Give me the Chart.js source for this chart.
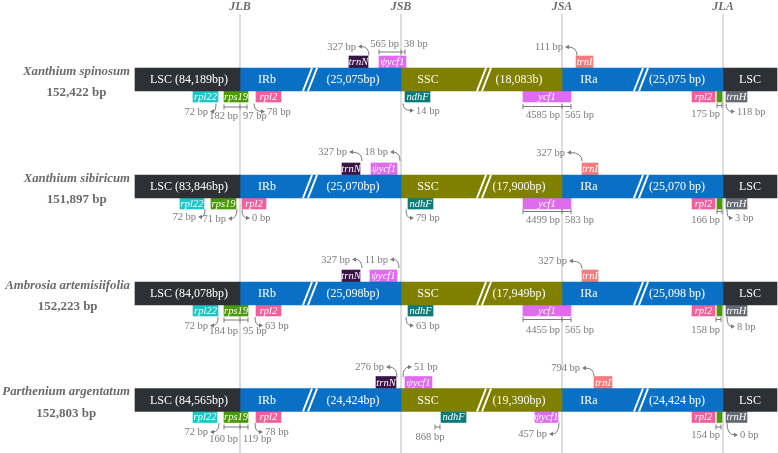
<!DOCTYPE html>
<html>
<head>
<meta charset="utf-8">
<script src="https://cdn.jsdelivr.net/npm/chart.js@4.4.1/dist/chart.umd.min.js"></script>
<style>
    html, body { margin: 0; padding: 0; background: #fff; }
</style>
</head>
<body>
<canvas id="junctionChart" width="778" height="453"></canvas>
<script>
    // ---- values ----
    const species = ['Xanthium spinosum', 'Xanthium sibiricum', 'Ambrosia artemisiifolia', 'Parthenium argentatum'];
    const genomeBp = ['152,422 bp', '151,897 bp', '152,223 bp', '152,803 bp'];
    const lscLabel = ['LSC (84,189bp)', 'LSC (83,846bp)', 'LSC (84,078bp)', 'LSC (84,565bp)'];
    const irbLabel = ['(25,075bp)', '(25,070bp)', '(25,098bp)', '(24,424bp)'];
    const sscLabel = ['(18,083b)', '(17,900bp)', '(17,949bp)', '(19,390bp)'];
    const iraLabel = ['(25,075 bp)', '(25,070 bp)', '(25,098 bp)', '(24,424 bp)'];
    const junctions = ['JLB', 'JSB', 'JSA', 'JLA'];
    const segments = ['LSC', 'IRb', 'SSC', 'IRa', 'LSC'];

    const upperGenes = [
        ['trnN', 'ψycf1', 'trnI'],
        ['trnN', 'ψycf1', 'trnI'],
        ['trnN', 'ψycf1', 'trnI'],
        ['trnN', 'ψycf1', 'trnI']
    ];
    const lowerGenes = [
        ['rpl22', 'rps19', 'rpl2', 'ndhF', 'ycf1', 'rpl2', 'rps19', 'trnH'],
        ['rpl22', 'rps19', 'rpl2', 'ndhF', 'ycf1', 'rpl2', 'rps19', 'trnH'],
        ['rpl22', 'rps19', 'rpl2', 'ndhF', 'ycf1', 'rpl2', 'rps19', 'trnH'],
        ['rpl22', 'rps19', 'rpl2', 'ndhF', 'ψycf1', 'rpl2', 'rps19', 'trnH']
    ];

    // distances (bp) next to the junctions, one entry per species
    const trnNbp    = [327, 327, 327, 276];
    const psiYcf1bp = [[565, 38], [18], [11], [51]];
    const rpl22bp   = [72, 72, 72, 72];
    const rps19bp   = [[182, 97], [71], [184, 95], [160, 119]];
    const rpl2Bbp   = [78, 0, 63, 78];
    const ndhFbp    = [14, 79, 63, 868];
    const ycf1bp    = [[4585, 565], [4499, 583], [4455, 565], [457]];
    const trnIbp    = [111, 327, 327, 794];
    const rpl2Abp   = [175, 166, 158, 154];
    const trnHbp    = [118, 3, 8, 0];

    // ---- layout (schematic units, not to scale) ----
    const junctionX = [240, 401, 562, 723];
    const barStart = 135, barEnd = 777;
    const rowY = [79.5, 186.5, 293.5, 400];
    const segEdges = [barStart, ...junctionX, barEnd];
    const labelX = { lsc: 189, irb: 267, irbSize: 353, ssc: 428, sscSize: 519, ira: 589, iraSize: 677, lsc2: 750 };
    const slashX = [303, 477, 634];

    const upperSpan = [
        [[349, 368], [379, 406], [576, 593]],
        [[342, 360], [371, 397], [582, 598]],
        [[342, 360], [370, 397], [582, 598]],
        [[376, 396], [405, 432], [594, 612]]
    ];
    const lowerSpan = [
        [[193, 218], [224, 248], [256, 281], [405, 430], [523, 571], [692, 715], [717, 722], [726, 747]],
        [[180, 204], [211, 236], [242, 266], [408, 433], [523, 571], [692, 715], [717, 722], [726, 747]],
        [[193, 218], [224, 248], [256, 281], [408, 433], [523, 571], [692, 715], [717, 722], [726, 747]],
        [[193, 217], [224, 248], [256, 281], [441, 466], [535, 558], [692, 715], [717, 722], [726, 747]]
    ];

    const segColors = ['#2d3035', '#0a70c6', '#7f7f00', '#0a70c6', '#2d3035'];
    const geneColors = {
        'rpl22': '#1ec6c6', 'rps19': '#4a9a06', 'rpl2': '#f0609c', 'ndhF': '#0b7a7a',
        'ycf1': '#df6bef', 'ψycf1': '#df6bef', 'trnN': '#3b1447', 'trnI': '#f47c7e', 'trnH': '#646b72'
    };

    function arrow(v, sx, sdy, ex, edy) { return { kind: 'arrow', v, sx, sdy, ex, edy }; }
    function bracket(v, xs, dy, ldy) { return { kind: 'bracket', v, xs, dy, ldy }; }
    function tick(v, xs, dy, lx, ldy, align) { return { kind: 'tick', v, xs, dy, lx, ldy, align }; }

    const notes = [
        [
            arrow(trnNbp[0], 369, -24, 358, -33),
            bracket(psiYcf1bp[0], [379, 401, 405], -27.5, -35.5),
            arrow(rpl22bp[0], 216, 24, 210, 32),
            bracket(rps19bp[0], [224, 240, 247], 27.5, 37),
            arrow(rpl2Bbp[0], 254, 24, 265, 32),
            arrow(trnIbp[0], 577, -24, 565, -32.5),
            arrow(ndhFbp[0], 403, 24, 414, 31),
            bracket(ycf1bp[0], [523, 562, 571], 27, 35.5),
            tick(rpl2Abp[0], [717, 722], 26, 720, 35, 'right'),
            arrow(trnHbp[0], 726, 24, 735, 32)
        ],
        [
            arrow(trnNbp[1], 362, -25.5, 349, -34.5),
            arrow(psiYcf1bp[1][0], 400, -25.5, 390, -34.5),
            arrow(rpl22bp[1], 205, 22.5, 198, 30.5),
            arrow(rps19bp[1][0], 237, 22.5, 228, 32),
            arrow(rpl2Bbp[1], 242, 23, 250, 31.5),
            arrow(trnIbp[1], 582, -25.5, 567, -34),
            arrow(ndhFbp[1], 406, 23, 414, 31.5),
            bracket(ycf1bp[1], [523, 562, 571], 25, 33.5),
            tick(rpl2Abp[1], [717, 722], 25, 720, 33.5, 'right'),
            arrow(trnHbp[1], 727, 23, 733, 31.5)
        ],
        [
            arrow(trnNbp[2], 362, -25.5, 352, -34),
            arrow(psiYcf1bp[2][0], 399, -25.5, 390, -34),
            arrow(rpl22bp[2], 218, 23.5, 210, 32),
            bracket(rps19bp[2], [224, 240, 248], 26.5, 38),
            arrow(rpl2Bbp[2], 255, 23.5, 263, 32),
            arrow(trnIbp[2], 582, -25, 569, -32.5),
            arrow(ndhFbp[2], 406, 23.5, 414, 32),
            bracket(ycf1bp[2], [523, 562, 571], 26, 36.5),
            tick(rpl2Abp[2], [716, 721], 26, 720, 36.5, 'right'),
            arrow(trnHbp[2], 727, 23.5, 735, 33)
        ],
        [
            arrow(trnNbp[3], 397, -23, 386, -33),
            arrow(psiYcf1bp[3][0], 403, -23, 412, -33),
            arrow(rpl22bp[3], 219, 23, 210, 32),
            bracket(rps19bp[3], [224, 240, 248], 27, 39.5),
            arrow(rpl2Bbp[3], 255, 23, 263, 32),
            arrow(trnIbp[3], 594, -24, 582, -32),
            tick(ndhFbp[3], [435, 440], 27, 430, 37, 'center'),
            arrow(ycf1bp[3][0], 559, 23, 549, 34),
            tick(rpl2Abp[3], [716, 721], 27, 720, 35, 'right'),
            arrow(trnHbp[3], 727, 23, 738, 35)
        ]
    ];

    // ---- datasets built from the tables ----
    const datasets = [];
    segments.forEach((name, s) => {
        datasets.push({
            label: name,
            data: rowY.map(ry => ({ y: ry, x: [segEdges[s], segEdges[s + 1]] })),
            backgroundColor: segColors[s],
            barThickness: 23,
            grouped: false,
            borderWidth: 0
        });
    });

    const upperData = [], upperCol = [], lowerData = [], lowerCol = [];
    rowY.forEach((ry, r) => {
        upperGenes[r].forEach((g, k) => {
            upperData.push({ y: ry - 17.5, x: upperSpan[r][k], gene: g });
            upperCol.push(geneColors[g]);
        });
        lowerGenes[r].forEach((g, k) => {
            lowerData.push({ y: ry + 17, x: lowerSpan[r][k], gene: g });
            lowerCol.push(geneColors[g]);
        });
    });
    datasets.push({ label: 'upper genes', data: upperData, backgroundColor: upperCol, barThickness: 12, grouped: false, borderWidth: 0 });
    datasets.push({ label: 'lower genes', data: lowerData, backgroundColor: lowerCol, barThickness: 11, grouped: false, borderWidth: 0 });

    const SERIF = '"Liberation Serif", "DejaVu Serif", serif';
    const NOTE_COLOR = '#7b7b7b';

    const junctionPlugin = {
        id: 'junctionPlugin',
        beforeDatasetsDraw(chart) {
            const { ctx, scales: { x, y } } = chart;
            ctx.save();
            ctx.strokeStyle = '#d2d2d2';
            ctx.lineWidth = 1.5;
            junctionX.forEach(j => {
                ctx.beginPath();
                ctx.moveTo(x.getPixelForValue(j), y.getPixelForValue(14));
                ctx.lineTo(x.getPixelForValue(j), y.getPixelForValue(453));
                ctx.stroke();
            });
            ctx.font = 'italic bold 12px ' + SERIF;
            ctx.fillStyle = '#6e6e6e';
            ctx.textAlign = 'center';
            ctx.textBaseline = 'middle';
            junctions.forEach((name, k) => {
                ctx.fillText(name, x.getPixelForValue(junctionX[k]), y.getPixelForValue(7));
            });
            ctx.restore();
        },
        afterDatasetsDraw(chart) {
            const { ctx, scales: { x, y } } = chart;
            const px = v => x.getPixelForValue(v);
            const py = v => y.getPixelForValue(v);
            ctx.save();

            rowY.forEach((ry, r) => {
                const top = py(ry - 11.5), bottom = py(ry + 11.5);

                // break marks
                ctx.strokeStyle = '#ffffff';
                ctx.lineWidth = 2;
                slashX.forEach(sx => {
                    [0, 5].forEach(off => {
                        ctx.beginPath();
                        ctx.moveTo(px(sx + off), bottom);
                        ctx.lineTo(px(sx + off + 9), top);
                        ctx.stroke();
                    });
                });

                // segment texts
                ctx.fillStyle = '#ffffff';
                ctx.font = '12px ' + SERIF;
                ctx.textAlign = 'center';
                ctx.textBaseline = 'middle';
                const cy = py(ry) + 0.5;
                ctx.fillText(lscLabel[r], px(labelX.lsc), cy);
                ctx.fillText('IRb', px(labelX.irb), cy);
                ctx.fillText(irbLabel[r], px(labelX.irbSize), cy);
                ctx.fillText('SSC', px(labelX.ssc), cy);
                ctx.fillText(sscLabel[r], px(labelX.sscSize), cy);
                ctx.fillText('IRa', px(labelX.ira), cy);
                ctx.fillText(iraLabel[r], px(labelX.iraSize), cy);
                ctx.fillText('LSC', px(labelX.lsc2), cy);

                // species
                ctx.fillStyle = '#6b6b6b';
                ctx.font = 'italic bold 12.8px ' + SERIF;
                ctx.textAlign = 'right';
                ctx.fillText(species[r], px(130), py(ry - 8));
                const w = ctx.measureText(species[r]).width;
                ctx.font = 'bold 13px ' + SERIF;
                ctx.textAlign = 'center';
                ctx.fillText(genomeBp[r], px(130) - w / 2, py(ry + 13.5));
            });

            // gene names inside boxes
            ctx.fillStyle = '#ffffff';
            ctx.font = 'italic 10.5px ' + SERIF;
            ctx.textAlign = 'center';
            ctx.textBaseline = 'middle';
            [chart.getDatasetMeta(5), chart.getDatasetMeta(6)].forEach(meta => {
                meta.data.forEach((el, i) => {
                    const raw = meta._dataset.data[i];
                    if (el.width < 10) return;
                    ctx.fillText(raw.gene, el.base + (el.x - el.base) / 2, el.y + 0.5);
                });
            });

            // distance notes
            ctx.strokeStyle = NOTE_COLOR;
            ctx.fillStyle = NOTE_COLOR;
            ctx.lineWidth = 1;
            ctx.font = '10.5px ' + SERIF;
            ctx.textBaseline = 'middle';
            notes.forEach((list, r) => {
                const ry = rowY[r];
                list.forEach(n => {
                    if (n.kind === 'arrow') {
                        const sx = px(n.sx), sy = py(ry + n.sdy);
                        const ex = px(n.ex), ey = py(ry + n.edy);
                        const dir = ex > sx ? 1 : -1;
                        ctx.beginPath();
                        ctx.moveTo(sx, sy);
                        ctx.quadraticCurveTo(sx, ey, ex - dir * 3, ey);
                        ctx.stroke();
                        ctx.beginPath();
                        ctx.moveTo(ex, ey);
                        ctx.lineTo(ex - dir * 4, ey - 2.3);
                        ctx.lineTo(ex - dir * 4, ey + 2.3);
                        ctx.closePath();
                        ctx.fill();
                        ctx.textAlign = dir > 0 ? 'left' : 'right';
                        ctx.fillText(n.v + ' bp', ex + dir * 2, ey + 0.5);
                    } else if (n.kind === 'bracket') {
                        const by = py(ry + n.dy);
                        ctx.beginPath();
                        ctx.moveTo(px(n.xs[0]), by);
                        ctx.lineTo(px(n.xs[n.xs.length - 1]), by);
                        n.xs.forEach(bx => {
                            ctx.moveTo(px(bx), by - 2.5);
                            ctx.lineTo(px(bx), by + 2.5);
                        });
                        ctx.stroke();
                        const ly = py(ry + n.ldy);
                        ctx.textAlign = 'right';
                        ctx.fillText(n.v[0] + ' bp', px(n.xs[1]) - 2, ly);
                        if (n.v.length > 1) {
                            ctx.textAlign = 'left';
                            ctx.fillText(n.v[1] + ' bp', px(n.xs[1]) + 3, ly);
                        }
                    } else if (n.kind === 'tick') {
                        const by = py(ry + n.dy);
                        ctx.beginPath();
                        ctx.moveTo(px(n.xs[0]), by);
                        ctx.lineTo(px(n.xs[1]), by);
                        n.xs.forEach(bx => {
                            ctx.moveTo(px(bx), by - 2.5);
                            ctx.lineTo(px(bx), by + 2.5);
                        });
                        ctx.stroke();
                        ctx.textAlign = n.align;
                        ctx.fillText(n.v + ' bp', px(n.lx), py(ry + n.ldy));
                    }
                });
            });
            ctx.restore();
        }
    };

    new Chart(document.getElementById('junctionChart'), {
        type: 'bar',
        data: { datasets: datasets },
        options: {
            responsive: false,
            animation: false,
            indexAxis: 'y',
            layout: { padding: 0 },
            plugins: { legend: { display: false }, tooltip: { enabled: false } },
            scales: {
                x: { type: 'linear', min: 0, max: 778, display: false, offset: false },
                y: { type: 'linear', min: 0, max: 453, reverse: true, display: false, offset: false }
            }
        },
        plugins: [junctionPlugin]
    });
</script>
</body>
</html>
